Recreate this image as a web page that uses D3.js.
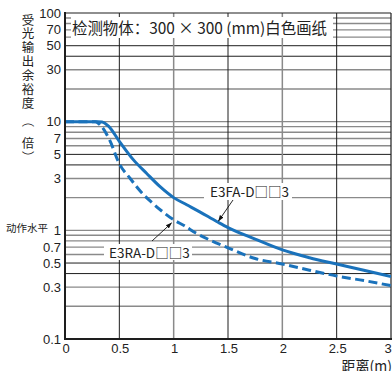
<!DOCTYPE html>
<html><head><meta charset="utf-8">
<script src="https://cdn.jsdelivr.net/npm/d3@7"></script>
<style>
html,body{margin:0;padding:0;background:#fff;}
svg{display:block;}
text{font-family:"Liberation Sans",Arial,"Noto Sans CJK SC",sans-serif;fill:#222;}
.cjk{font-family:"Noto Sans CJK SC","Noto Sans CJK JP",sans-serif;}
</style></head>
<body>
<svg id="c" width="392" height="371"></svg>
<script>
// ---- data ----
const xTickValues = [0, 0.5, 1, 1.5, 2, 2.5, 3];
const xTickLabels = ["0", "0.5", "1", "1.5", "2", "2.5", "3"];
const yTickValues = [100, 70, 50, 30, 10, 7, 5, 3, 1, 0.7, 0.5, 0.3, 0.1];
const yTickLabels = ["100", "70", "50", "30", "10", "7", "5", "3", "1", "0.7", "0.5", "0.3", "0.1"];
const gridMultipliers = [1, 2, 3, 4, 5, 6, 7, 8, 9];
const gridDecades = [0.1, 1, 10];

const seriesNames = ["E3FA-D\u25A1\u25A13", "E3RA-D\u25A1\u25A13"];
const distE3FA   = [0, 0.30, 0.34, 0.40, 0.50, 0.63, 0.75, 0.875, 1.0, 1.12, 1.24, 1.40, 1.50, 1.75, 2.0, 2.25, 2.5, 2.75, 3.0];
const marginE3FA = [10, 10, 9.95, 9.1, 6.6, 4.45, 3.35, 2.52, 2.0, 1.72, 1.48, 1.2, 1.06, 0.83, 0.66, 0.56, 0.49, 0.43, 0.375];
const distE3RA   = [0, 0.28, 0.33, 0.41, 0.50, 0.60, 0.70, 0.80, 0.90, 1.0, 1.1, 1.2, 1.35, 1.5, 1.75, 2.0, 2.25, 2.5, 2.75, 3.0];
const marginE3RA = [10, 10, 9.2, 6.8, 4.1, 3.0, 2.25, 1.8, 1.48, 1.25, 1.1, 0.95, 0.8, 0.69, 0.55, 0.49, 0.43, 0.38, 0.345, 0.31];

const titleText = "检测物体：300 × 300 (mm)白色画纸";
const yTitleChars = ["受", "光", "输", "出", "余", "裕", "度", "（", "倍", "）"];
const xTitle = "距离(m)";
const levelLabel = "动作水平";

// ---- layout ----
const svg = d3.select("#c");
const L = 65, R = 391, T = 13, B = 339;
const x = d3.scaleLinear().domain([0, 3]).range([L, R]);
const y = d3.scaleLog().domain([0.1, 100]).range([B, T]);
const gray = "#8a8a8a", black = "#1e1e1e", blue = "#1a72bb";

const mult = d => Math.round(d / Math.pow(10, Math.floor(Math.log10(d) + 1e-9)));

// horizontal grid
const gridVals = [];
gridDecades.forEach(d => gridMultipliers.forEach(m => gridVals.push(+(d * m).toPrecision(3))));
svg.append("g").selectAll("line").data(gridVals.filter(v => v > 0.1 && v < 100)).join("line")
  .attr("x1", L).attr("x2", R)
  .attr("y1", d => y(d)).attr("y2", d => y(d))
  .attr("stroke", d => (mult(d) === 4 || mult(d) === 5) ? black : gray)
  .attr("stroke-width", d => (mult(d) === 4 || mult(d) === 5) ? 1 : 1.4);

// vertical grid
svg.append("g").selectAll("line").data(xTickValues.filter(v => v > 0 && v < 3)).join("line")
  .attr("x1", d => x(d)).attr("x2", d => x(d)).attr("y1", T).attr("y2", B)
  .attr("stroke", d => Number.isInteger(d) ? gray : black)
  .attr("stroke-width", d => Number.isInteger(d) ? 1.5 : 1);

// frame
svg.append("line").attr("x1", L).attr("x2", R).attr("y1", T).attr("y2", T).attr("stroke", black).attr("stroke-width", 1.2);
svg.append("line").attr("x1", R).attr("x2", R).attr("y1", T).attr("y2", B).attr("stroke", black).attr("stroke-width", 1.2);

// title box
const tb = svg.append("g");
tb.append("rect").attr("x", 71).attr("y", 17).attr("width", 262).attr("height", 21).attr("fill", "#fff");
tb.append("text").attr("class", "cjk").attr("x", 72).attr("y", 33.5).attr("font-size", 15.5)
  .attr("textLength", 255).attr("lengthAdjust", "spacingAndGlyphs").text(titleText);

// curves
svg.append("defs").append("clipPath").attr("id", "clip").append("rect")
  .attr("x", L).attr("y", T).attr("width", R - L).attr("height", B - T);
const line = d3.line().x(d => x(d[0])).y(d => y(d[1])).curve(d3.curveMonotoneX);
const g = svg.append("g").attr("clip-path", "url(#clip)");
g.append("path").datum(d3.zip(distE3RA, marginE3RA)).attr("d", line)
  .attr("fill", "none").attr("stroke", blue).attr("stroke-width", 3).attr("stroke-dasharray", "9,4.5");
g.append("path").datum(d3.zip(distE3FA, marginE3FA)).attr("d", line)
  .attr("fill", "none").attr("stroke", blue).attr("stroke-width", 3);

// annotation labels
svg.append("defs").append("marker").attr("id", "ah").attr("viewBox", "0 0 10 10")
  .attr("refX", 9).attr("refY", 5).attr("markerWidth", 7).attr("markerHeight", 7).attr("orient", "auto")
  .append("path").attr("d", "M0,1.5 L10,5 L0,8.5 Z").attr("fill", "#111");

function annot(label, bx, by, bw, bh, tx, tyy, ax1, ay1, ax2, ay2) {
  svg.append("rect").attr("x", bx).attr("y", by).attr("width", bw).attr("height", bh).attr("fill", "#fff");
  svg.append("text").attr("class", "cjk").attr("x", tx).attr("y", tyy).attr("font-size", 13.5).text(label);
  svg.append("line").attr("x1", ax1).attr("y1", ay1).attr("x2", ax2).attr("y2", ay2)
    .attr("stroke", "#111").attr("stroke-width", 0.9).attr("marker-end", "url(#ah)");
}
annot(seriesNames[0], 204, 183, 88, 17, 210, 197, 233, 200, 218.5, 221);
annot(seriesNames[1], 104, 244, 88, 16, 109, 258, 152, 241, 171.5, 223);

// axes lines
svg.append("line").attr("x1", L).attr("x2", L).attr("y1", T - 1).attr("y2", B + 1).attr("stroke", black).attr("stroke-width", 2);
svg.append("line").attr("x1", L - 1).attr("x2", R + 1).attr("y1", B).attr("y2", B).attr("stroke", black).attr("stroke-width", 2);

// y tick labels
svg.append("g").selectAll("text").data(yTickValues).join("text")
  .attr("x", 61).attr("y", d => y(d) + 4.5).attr("text-anchor", "end").attr("font-size", 13)
  .text((d, i) => yTickLabels[i]);
svg.append("text").attr("class", "cjk").attr("x", 6).attr("y", y(1) + 2).attr("font-size", 10.5).text(levelLabel);

// x tick labels
svg.append("g").selectAll("text").data(xTickValues).join("text")
  .attr("x", d => Math.min(x(d) + 1, 388)).attr("y", 352.5).attr("text-anchor", "middle").attr("font-size", 13)
  .text((d, i) => xTickLabels[i]);

// axis titles (vertical, parentheses rotated)
const yPos = [19, 32.5, 46.5, 60, 74, 88, 102, 121, 142, 157];
const yt = svg.append("g");
yTitleChars.forEach((ch, i) => {
  const isParen = (ch === "（" || ch === "）");
  yt.append("text").attr("class", "cjk")
    .attr("transform", `translate(28,${yPos[i]}) rotate(${isParen ? 90 : 0})`)
    .attr("text-anchor", "middle").attr("dominant-baseline", "central")
    .attr("font-size", 12.5).text(ch);
});
svg.append("text").attr("class", "cjk").attr("x", 392).attr("y", 371).attr("text-anchor", "end").attr("font-size", 14).text(xTitle);
</script>
</body></html>
